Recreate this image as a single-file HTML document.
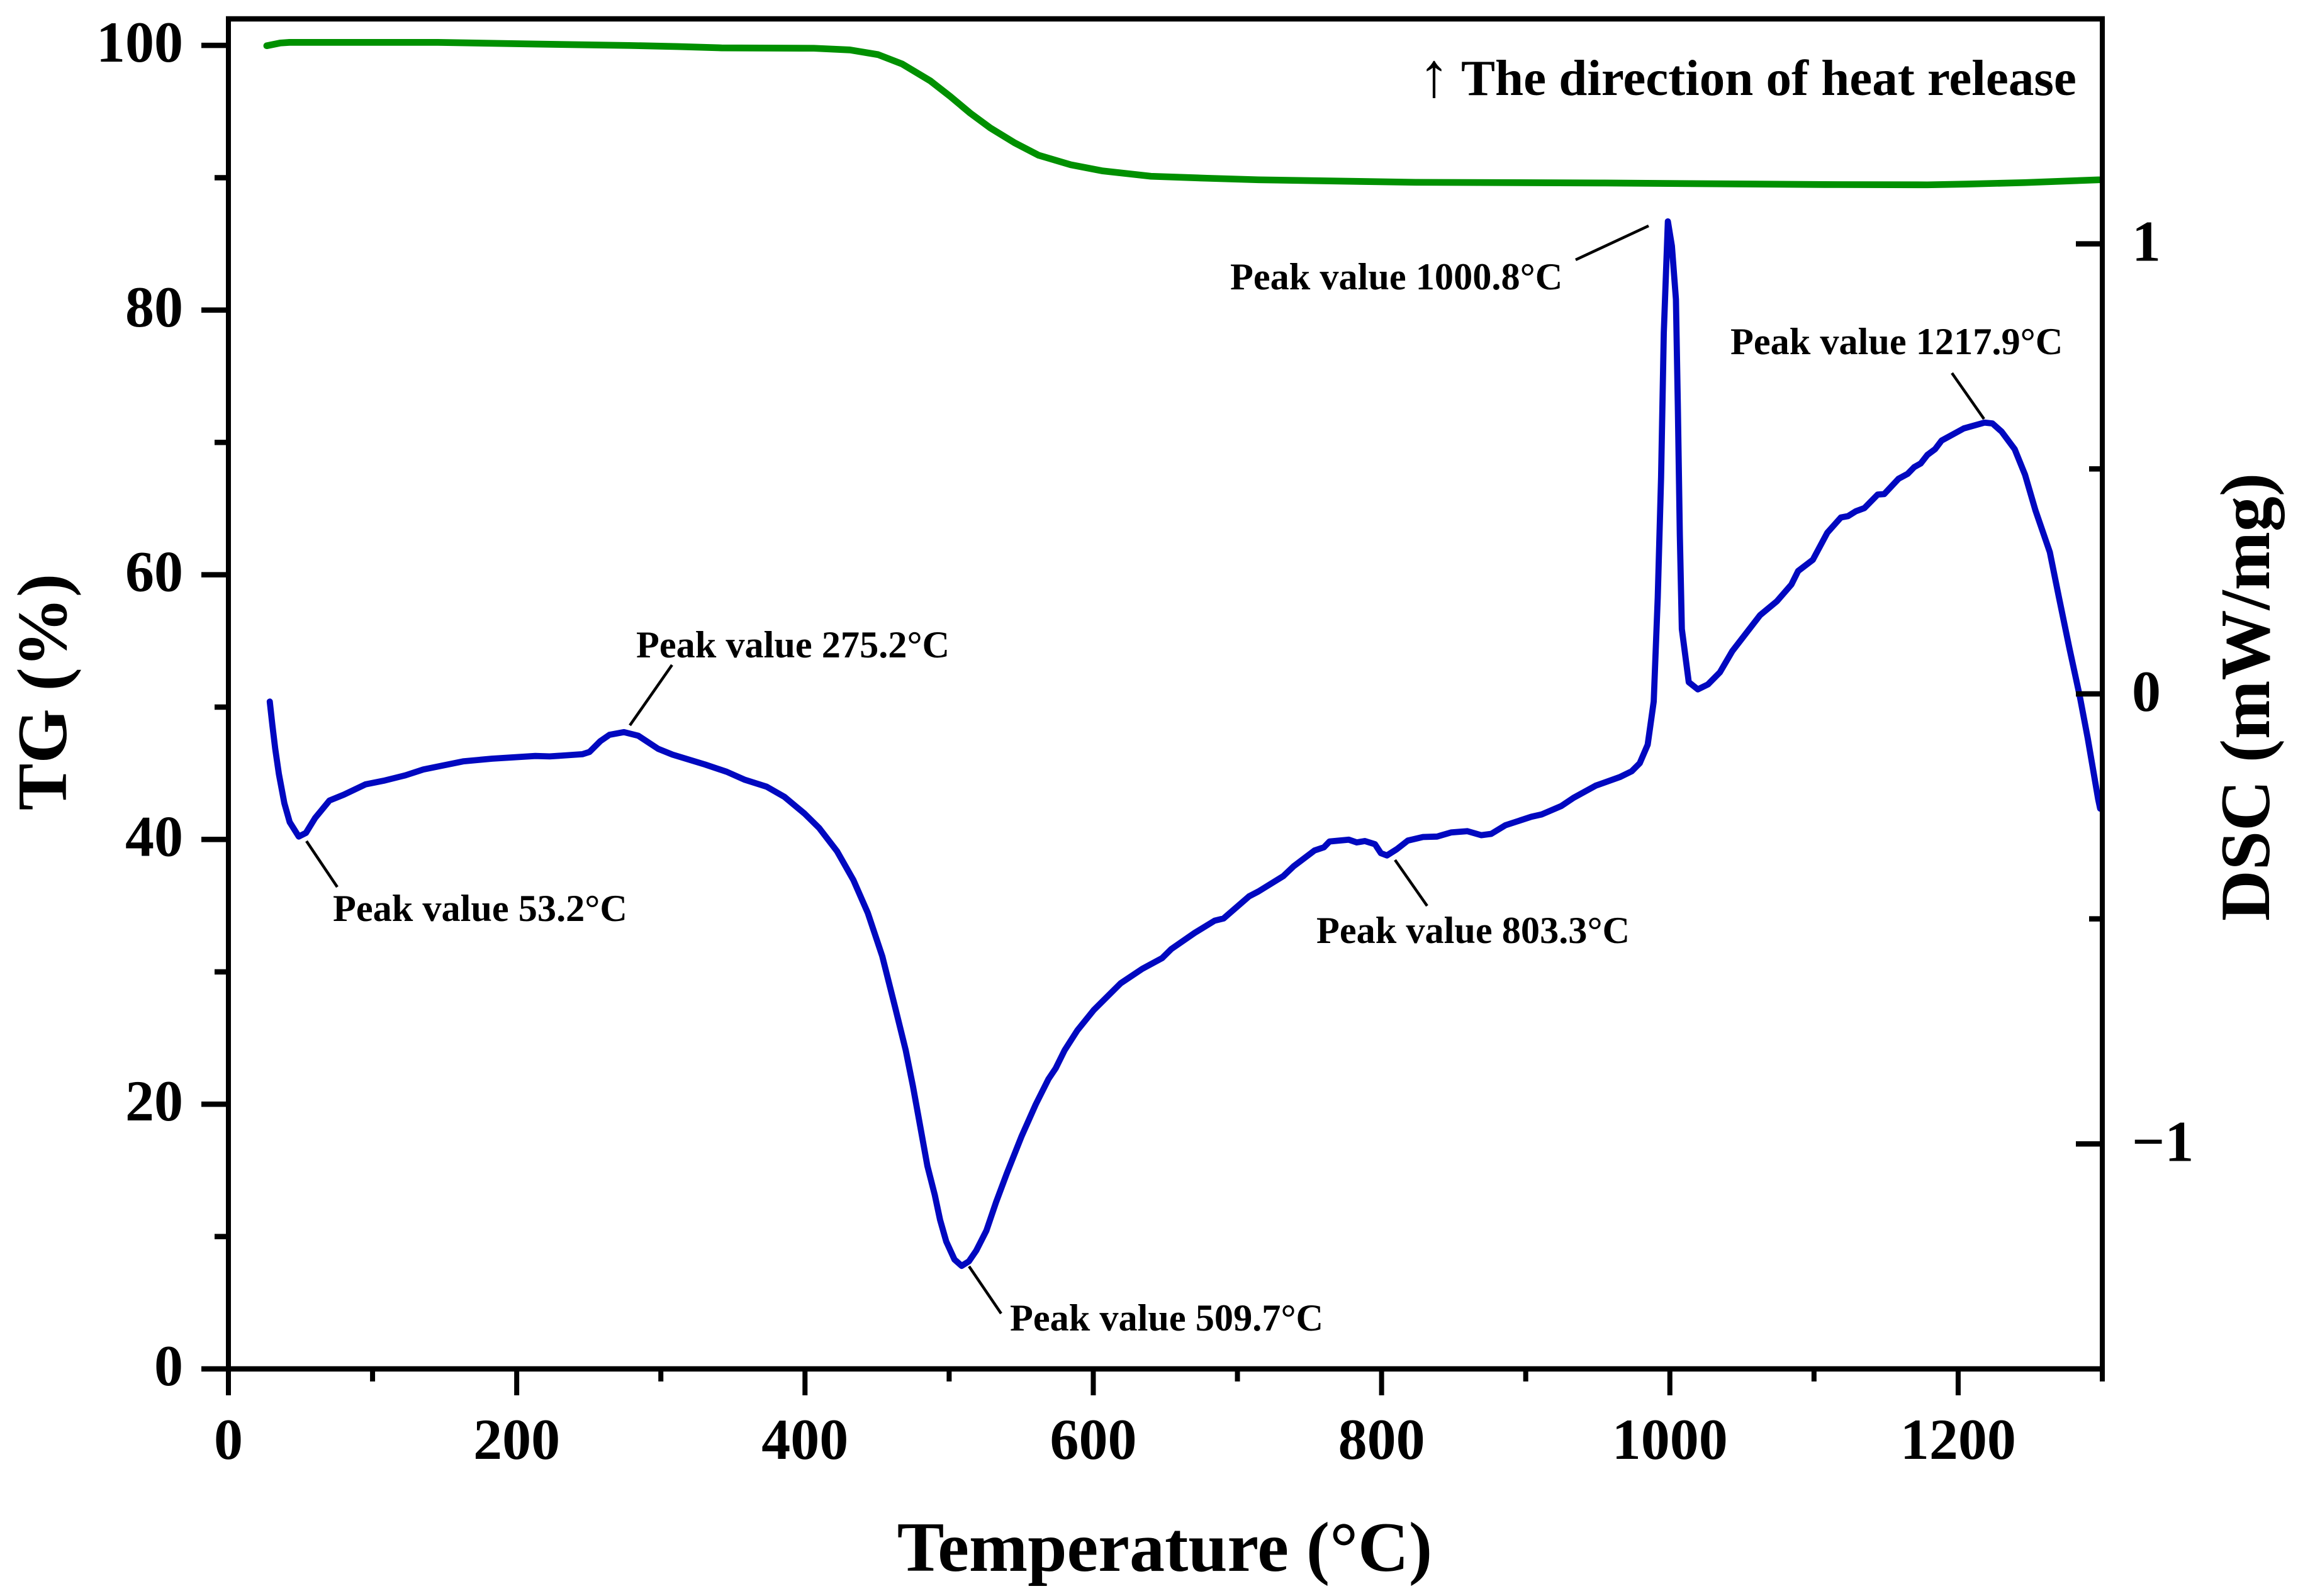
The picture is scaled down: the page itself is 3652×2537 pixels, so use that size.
<!DOCTYPE html>
<html lang="en">
<head>
<meta charset="utf-8">
<title>TG-DSC curves</title>
<style>
html,body{margin:0;padding:0;background:#fff;}
svg{display:block;}
text{font-family:"Liberation Serif",serif;font-weight:700;fill:#000;}
.tick-label{font-size:92px;}
.axis-title{font-size:112px;}
.peak-label{font-size:60.3px;}
.note{font-size:81px;}
.leader{stroke:#000;stroke-width:4.5;fill:none;}
</style>
</head>
<body>
<svg id="chart" width="3652" height="2537" viewBox="0 0 3652 2537" xmlns="http://www.w3.org/2000/svg">
  <rect x="0" y="0" width="3652" height="2537" fill="#fff"/>
  <g id="series"></g>
  <g id="axes"></g>

  <text class="axis-title" x="1851" y="2497" text-anchor="middle">Temperature (°C)</text>
  <text class="axis-title" transform="translate(105 1100) rotate(-90)" text-anchor="middle">TG (%)</text>
  <text class="axis-title" transform="translate(3606 1108) rotate(-90)" text-anchor="middle">DSC (mW/mg)</text>

  <text class="note" x="2254" y="153" style="font-size:100px">↑</text>
  <text class="note" x="2322" y="151">The direction of heat release</text>

  <line class="leader" x1="487" y1="1337" x2="536" y2="1410"/>
  <text class="peak-label" x="529" y="1464">Peak value 53.2°C</text>
  <line class="leader" x1="1001" y1="1153" x2="1068" y2="1057"/>
  <text class="peak-label" x="1011" y="1045">Peak value 275.2°C</text>
  <line class="leader" x1="1540" y1="2013" x2="1591" y2="2088"/>
  <text class="peak-label" x="1605" y="2115">Peak value 509.7°C</text>
  <line class="leader" x1="2217" y1="1367" x2="2268" y2="1440"/>
  <text class="peak-label" x="2092" y="1499">Peak value 803.3°C</text>
  <line class="leader" x1="2504" y1="413" x2="2620" y2="359"/>
  <text class="peak-label" x="1955" y="460">Peak value 1000.8°C</text>
  <line class="leader" x1="3102" y1="593" x2="3153" y2="666"/>
  <text class="peak-label" x="2750" y="563">Peak value 1217.9°C</text>
</svg>
<script>
const dscTemps = [28.7,30.5,32.5,35.0,38.8,42.5,48.8,53.8,60.1,70.1,80.1,95.1,107.6,122.7,135.2,162.8,182.8,212.9,222.9,245.5,250.5,258,264.3,274.3,284.3,298.1,308.1,330.7,345.7,358.3,373.3,385.8,399.7,409.8,422.3,433.6,443.6,453.6,462.4,469.9,474.9,479.9,484.9,490.0,493.7,498.0,503.7,508.7,513.7,518.8,525.8,532.6,540.1,550.1,560.1,568.9,573.9,580.1,588.9,600.2,619.0,634.0,647.8,654.1,670.4,684.2,690.4,708.0,714.6,731.8,739.0,753.5,760.0,763.9,777.3,782.8,788.4,795.4,799.5,803.7,810.6,818.2,828.7,838.5,848.2,859.4,869.1,876.1,885.8,903.9,910.9,924.8,933.2,948.5,965.2,973.5,979.1,984.6,988.8,991.6,993.9,995.8,998.6,1001.4,1004.2,1005.5,1006.9,1008.3,1013.1,1019.4,1026.4,1034.7,1043.3,1062.6,1074.3,1084.3,1089.0,1099.2,1109.2,1118.6,1123.6,1129.1,1135.0,1144.2,1148.7,1158.6,1165.0,1169.5,1174.0,1178.6,1184.0,1188.5,1203.9,1218.4,1223.8,1230.1,1239.2,1246.4,1253.6,1263.6,1269.9,1277.2,1284.4,1289.9,1297.1,1298.5];
const dscValues = [-0.017,-0.070,-0.122,-0.178,-0.243,-0.285,-0.317,-0.309,-0.276,-0.237,-0.224,-0.201,-0.193,-0.181,-0.168,-0.150,-0.144,-0.138,-0.139,-0.134,-0.129,-0.105,-0.091,-0.085,-0.093,-0.122,-0.135,-0.157,-0.173,-0.191,-0.206,-0.229,-0.266,-0.298,-0.350,-0.414,-0.487,-0.583,-0.695,-0.792,-0.872,-0.960,-1.049,-1.113,-1.169,-1.217,-1.257,-1.271,-1.261,-1.237,-1.193,-1.129,-1.065,-0.984,-0.912,-0.856,-0.832,-0.792,-0.748,-0.703,-0.643,-0.611,-0.587,-0.567,-0.531,-0.504,-0.499,-0.450,-0.439,-0.405,-0.383,-0.348,-0.341,-0.328,-0.324,-0.330,-0.327,-0.334,-0.354,-0.359,-0.345,-0.326,-0.318,-0.317,-0.308,-0.305,-0.314,-0.311,-0.292,-0.273,-0.268,-0.249,-0.231,-0.204,-0.185,-0.172,-0.154,-0.113,-0.017,0.214,0.481,0.802,1.050,0.995,0.877,0.642,0.353,0.144,0.026,0.010,0.021,0.048,0.095,0.175,0.206,0.243,0.273,0.298,0.358,0.392,0.395,0.406,0.413,0.443,0.444,0.478,0.489,0.504,0.512,0.531,0.544,0.563,0.590,0.603,0.601,0.583,0.544,0.487,0.408,0.315,0.215,0.101,-0.006,-0.099,-0.234,-0.255];
const tgTemps = [26.6,36.2,42.3,145.4,212.6,278.1,311.5,342.1,406.1,431.2,450.7,467.4,486.9,500.8,514.7,528.6,545.2,562.0,584.3,606.6,640.0,679.0,714.6,823.7,954.7,1107.5,1178.6,1205.7,1245.7,1297.8];
const tgValues = [99.97,100.18,100.22,100.22,100.1,99.99,99.91,99.81,99.78,99.65,99.30,98.59,97.32,96.14,94.87,93.76,92.65,91.70,90.98,90.51,90.11,89.96,89.84,89.65,89.60,89.48,89.46,89.52,89.63,89.84];
const xMajorTicks = [0,200,400,600,800,1000,1200];
const xMinorTicks = [100,300,500,700,900,1100,1300];
const tgMajorTicks = [0,20,40,60,80,100];
const tgMinorTicks = [10,30,50,70,90];
const dscMajorTicks = [-1,0,1];
const dscMinorTicks = [-0.5,0.5];
const dscTickLabels = ['\u22121','0','1'];

const NS = 'http://www.w3.org/2000/svg';
const PX0 = 363, PX1 = 3341, PY0 = 2176, PY1 = 30;
const xScale = t => PX0 + (t - 0) / 1300 * (PX1 - PX0);
const yTG = v => PY0 - (v - 0) / 102 * (PY0 - PY1);
const yDSC = v => PY0 - (v + 1.5) / 3 * (PY0 - PY1);
const axes = document.getElementById('axes');
const series = document.getElementById('series');

function seg(x1, y1, x2, y2, w) {
  const el = document.createElementNS(NS, 'line');
  el.setAttribute('x1', x1);
  el.setAttribute('y1', y1);
  el.setAttribute('x2', x2);
  el.setAttribute('y2', y2);
  el.setAttribute('stroke', '#000');
  el.setAttribute('stroke-width', w);
  axes.appendChild(el);
  return el;
}
function label(str, x, y, anchor) {
  const el = document.createElementNS(NS, 'text');
  el.setAttribute('class', 'tick-label');
  el.setAttribute('x', x);
  el.setAttribute('y', y);
  el.setAttribute('text-anchor', anchor);
  el.textContent = str;
  axes.appendChild(el);
  return el;
}
function curve(xs, ys, color, width) {
  const el = document.createElementNS(NS, 'polyline');
  el.setAttribute('points', xs.map((x, i) => x.toFixed(1) + ',' + ys[i].toFixed(1)).join(' '));
  el.setAttribute('fill', 'none');
  el.setAttribute('stroke', color);
  el.setAttribute('stroke-width', width);
  el.setAttribute('stroke-linejoin', 'round');
  el.setAttribute('stroke-linecap', 'round');
  series.appendChild(el);
  return el;
}

const tgLine = curve(tgTemps.map(xScale), tgValues.map(yTG), '#009000', 10.7);


const dscLine = curve(dscTemps.map(xScale), dscValues.map(yDSC), '#0008c0', 9.8);



const frameTop = seg(PX0 - 4, PY1, PX1 + 4, PY1, 8.5);


const frameBottom = seg(PX0 - 4, PY0, PX1 + 4, PY0, 8.5);


const frameLeft = seg(PX0, PY1 - 4, PX0, PY0, 8);


const frameRight = seg(PX1, PY1 - 4, PX1, PY0, 8);



xMajorTicks.forEach(t => {
  const tick = seg(xScale(t), PY0, xScale(t), 2218, 8);
  
  
  const txt = label(String(t), xScale(t), 2319, 'middle');
  
  
});
xMinorTicks.forEach(t => {
  const tick = seg(xScale(t), PY0, xScale(t), 2196, 8);
  
  
});
tgMajorTicks.forEach(v => {
  const tick = seg(320, yTG(v), PX0, yTG(v), 8.5);
  
  
  const txt = label(String(v), 291, yTG(v) + 26, 'end');
  
  
});
tgMinorTicks.forEach(v => {
  const tick = seg(341, yTG(v), PX0, yTG(v), 8.5);
  
  
});
dscMajorTicks.forEach((v, i) => {
  const tick = seg(3299, yDSC(v), PX1, yDSC(v), 8.5);
  
  
  const txt = label(dscTickLabels[i], 3388, yDSC(v) + 27, 'start');
  
  
});
dscMinorTicks.forEach(v => {
  const tick = seg(3320, yDSC(v), PX1, yDSC(v), 8.5);
  
  
});
</script>
</body>
</html>
